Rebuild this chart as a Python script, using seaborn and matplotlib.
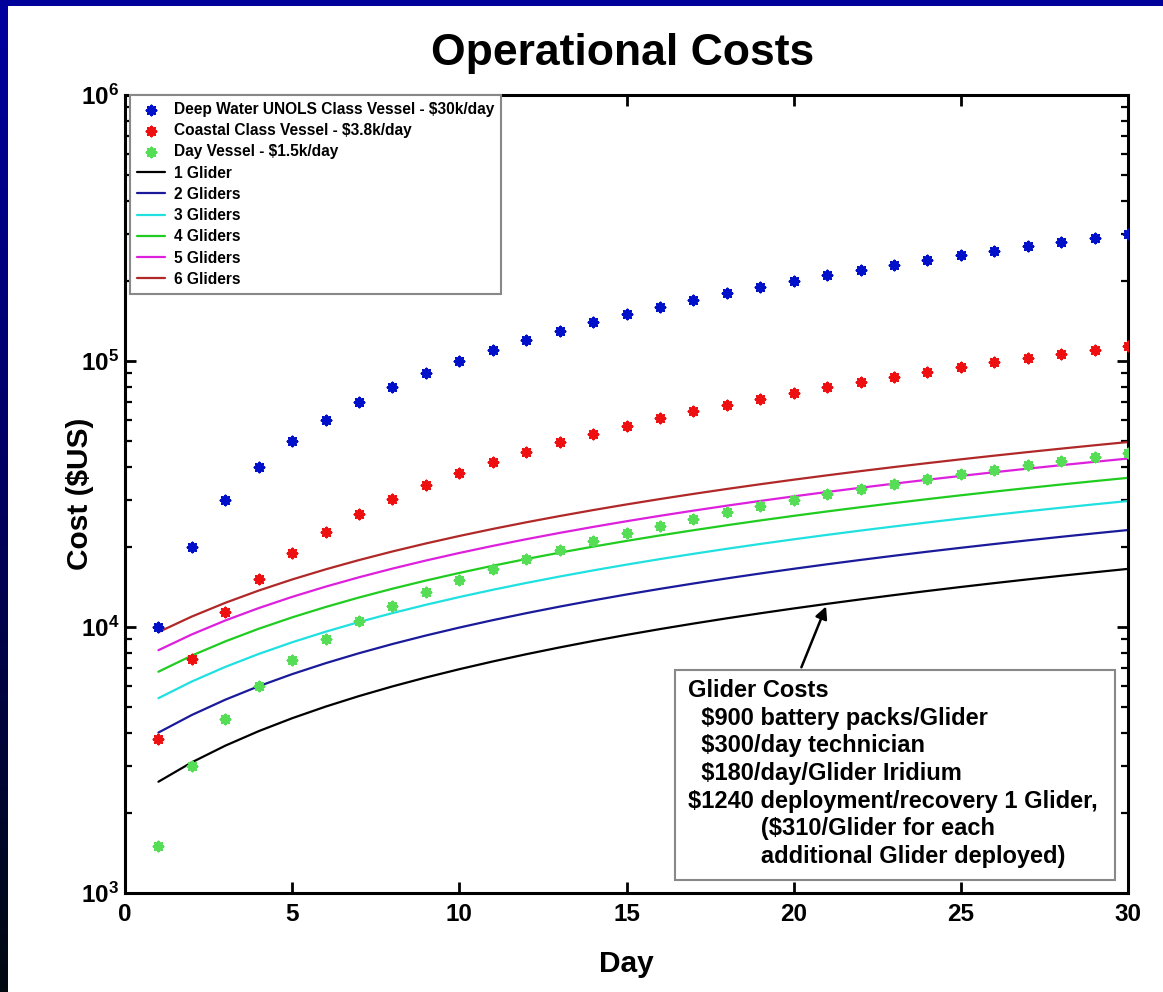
import numpy as np
import pandas as pd
import matplotlib
matplotlib.use("Agg")
import matplotlib.pyplot as plt
from matplotlib.patches import Rectangle
from matplotlib.colors import LinearSegmentedColormap
from matplotlib.ticker import FixedLocator, FuncFormatter, LogLocator, NullFormatter
import seaborn as sns

days = list(range(1, 31))

deep_water = [10000, 20000, 30000, 40000, 50000, 60000, 70000, 80000, 90000, 100000,
              110000, 120000, 130000, 140000, 150000, 160000, 170000, 180000, 190000, 200000,
              210000, 220000, 230000, 240000, 250000, 260000, 270000, 280000, 290000, 300000]
coastal = [3800, 7600, 11400, 15200, 19000, 22800, 26600, 30400, 34200, 38000,
           41800, 45600, 49400, 53200, 57000, 60800, 64600, 68400, 72200, 76000,
           79800, 83600, 87400, 91200, 95000, 98800, 102600, 106400, 110200, 114000]
day_vessel = [1500, 3000, 4500, 6000, 7500, 9000, 10500, 12000, 13500, 15000,
              16500, 18000, 19500, 21000, 22500, 24000, 25500, 27000, 28500, 30000,
              31500, 33000, 34500, 36000, 37500, 39000, 40500, 42000, 43500, 45000]

glider1 = [2620, 3100, 3580, 4060, 4540, 5020, 5500, 5980, 6460, 6940,
           7420, 7900, 8380, 8860, 9340, 9820, 10300, 10780, 11260, 11740,
           12220, 12700, 13180, 13660, 14140, 14620, 15100, 15580, 16060, 16540]
glider2 = [4010, 4670, 5330, 5990, 6650, 7310, 7970, 8630, 9290, 9950,
           10610, 11270, 11930, 12590, 13250, 13910, 14570, 15230, 15890, 16550,
           17210, 17870, 18530, 19190, 19850, 20510, 21170, 21830, 22490, 23150]
glider3 = [5400, 6240, 7080, 7920, 8760, 9600, 10440, 11280, 12120, 12960,
           13800, 14640, 15480, 16320, 17160, 18000, 18840, 19680, 20520, 21360,
           22200, 23040, 23880, 24720, 25560, 26400, 27240, 28080, 28920, 29760]
glider4 = [6790, 7810, 8830, 9850, 10870, 11890, 12910, 13930, 14950, 15970,
           16990, 18010, 19030, 20050, 21070, 22090, 23110, 24130, 25150, 26170,
           27190, 28210, 29230, 30250, 31270, 32290, 33310, 34330, 35350, 36370]
glider5 = [8180, 9380, 10580, 11780, 12980, 14180, 15380, 16580, 17780, 18980,
           20180, 21380, 22580, 23780, 24980, 26180, 27380, 28580, 29780, 30980,
           32180, 33380, 34580, 35780, 36980, 38180, 39380, 40580, 41780, 42980]
glider6 = [9570, 10950, 12330, 13710, 15090, 16470, 17850, 19230, 20610, 21990,
           23370, 24750, 26130, 27510, 28890, 30270, 31650, 33030, 34410, 35790,
           37170, 38550, 39930, 41310, 42690, 44070, 45450, 46830, 48210, 49590]

vessel_labels = ["Deep Water UNOLS Class Vessel - $30k/day",
                 "Coastal Class Vessel - $3.8k/day",
                 "Day Vessel - $1.5k/day"]
glider_labels = ["1 Glider", "2 Gliders", "3 Gliders", "4 Gliders", "5 Gliders", "6 Gliders"]

box_lines = ["Glider Costs",
             "  $900 battery packs/Glider",
             "  $300/day technician",
             "  $180/day/Glider Iridium",
             "$1240 deployment/recovery 1 Glider,",
             "           ($310/Glider for each",
             "           additional Glider deployed)"]

x_ticks = [0, 5, 10, 15, 20, 25, 30]
y_exponents = [3, 4, 5, 6]

vessel_colors = ["#0010c8", "#ee1010", "#55dd55"]
glider_colors = ["#000000", "#1a1a9a", "#20e0e0", "#20cc20", "#dd20dd", "#b02828"]

sns.set_theme(style="ticks")
plt.rcParams['font.family'] = ['Liberation Sans', 'DejaVu Sans']
plt.rcParams['font.weight'] = 'bold'
plt.rcParams['text.color'] = 'black'
plt.rcParams['axes.labelcolor'] = 'black'
plt.rcParams['xtick.color'] = 'black'
plt.rcParams['ytick.color'] = 'black'
plt.rcParams['mathtext.fontset'] = 'custom'
plt.rcParams['mathtext.bf'] = 'Liberation Sans:bold'
plt.rcParams['mathtext.rm'] = 'Liberation Sans:bold'
plt.rcParams['mathtext.it'] = 'Liberation Sans:bold'

W, H = 1163, 992
fig = plt.figure(figsize=(W / 100, H / 100), dpi=100)
fig.patch.set_facecolor("white")

# blue slide border (left gradient strip + top strip)
bax = fig.add_axes([0, 0, 8 / W, 1])
grad = np.linspace(0, 1, 256).reshape(-1, 1)
cmap = LinearSegmentedColormap.from_list("b", ["#000a10", "#000060", "#0000a0"])
bax.imshow(grad, aspect="auto", cmap=cmap, origin="lower")
bax.set_axis_off()
tax = fig.add_axes([0, 1 - 6 / H, 1, 6 / H])
tax.set_facecolor("#00009a")
tax.set_xticks([]); tax.set_yticks([])
for s in tax.spines.values():
    s.set_visible(False)

ax = fig.add_axes([125 / W, 1 - 893 / H, (1128 - 125) / W, (893 - 95) / H])
ax.set_facecolor("white")

for vals, lab, col in zip([deep_water, coastal, day_vessel], vessel_labels, vessel_colors):
    sns.scatterplot(x=days, y=vals, ax=ax, marker=(8, 2, 0), s=42, color=col,
                    linewidth=2.0, label=lab, zorder=3)

for vals, lab, col in zip([glider1, glider2, glider3, glider4, glider5, glider6],
                          glider_labels, glider_colors):
    sns.lineplot(x=days, y=vals, ax=ax, color=col, linewidth=1.6, label=lab, zorder=2)

ax.set_yscale("log")
ax.set_xlim(0, 30)
ax.set_ylim(1e3, 1e6)
ax.xaxis.set_major_locator(FixedLocator(x_ticks))
ax.yaxis.set_major_locator(FixedLocator([10.0 ** e for e in y_exponents]))
ax.yaxis.set_major_formatter(FuncFormatter(lambda v, p: r"$\mathbf{10^{%d}}$" % round(np.log10(v))))
ax.yaxis.set_minor_locator(LogLocator(base=10, subs=np.arange(2, 10)))
ax.yaxis.set_minor_formatter(NullFormatter())

for s in ax.spines.values():
    s.set_visible(True)
    s.set_linewidth(2.2)
    s.set_color("black")
ax.tick_params(which="both", direction="in", top=True, right=True, colors="black")
ax.tick_params(which="major", length=8, width=2, labelsize=17.5)
ax.tick_params(axis="x", which="major", pad=7)
ax.tick_params(axis="y", which="major", pad=4)
ax.tick_params(which="minor", length=5, width=1.6)
for t in ax.get_xticklabels():
    t.set_fontweight("bold")

ax.set_xlabel("Day", fontsize=21.5, fontweight="bold")
ax.set_ylabel("Cost ($US)", fontsize=21.5, fontweight="bold")
ax.xaxis.set_label_coords(0.5, -0.071)
ax.yaxis.set_label_coords(-0.031, 0.5)
fig.text(623 / W, 1 - 65 / H, "Operational Costs", ha="center", va="baseline",
         fontsize=32, fontweight="bold")

leg = ax.legend(loc="upper left", bbox_to_anchor=(5 / 1003, 1.0), frameon=True,
                fancybox=False, edgecolor="#888888", framealpha=1,
                prop={"weight": "bold", "size": 11.2}, labelspacing=0.40,
                handlelength=1.77, handletextpad=0.6, borderpad=0.45, borderaxespad=0)
leg.get_frame().set_linewidth(1.5)

# glider cost box
ax.add_patch(Rectangle((0.548, 0.0163), 0.987 - 0.548, 0.2794 - 0.0163,
                       transform=ax.transAxes, facecolor="white", edgecolor="#888888",
                       linewidth=1.5, zorder=4))
ax.text(563 / 1003, (893 - 679) / 798, "\n".join(box_lines), transform=ax.transAxes,
        ha="left", va="top", fontsize=17, fontweight="bold", linespacing=1.26, zorder=5)
ax.annotate("", xy=(21, glider1[20]), xytext=(20.2, 6900),
            arrowprops=dict(arrowstyle="-|>", color="black", lw=1.8, mutation_scale=18),
            zorder=5)

fig.savefig("out.png", dpi=100, facecolor="white")
